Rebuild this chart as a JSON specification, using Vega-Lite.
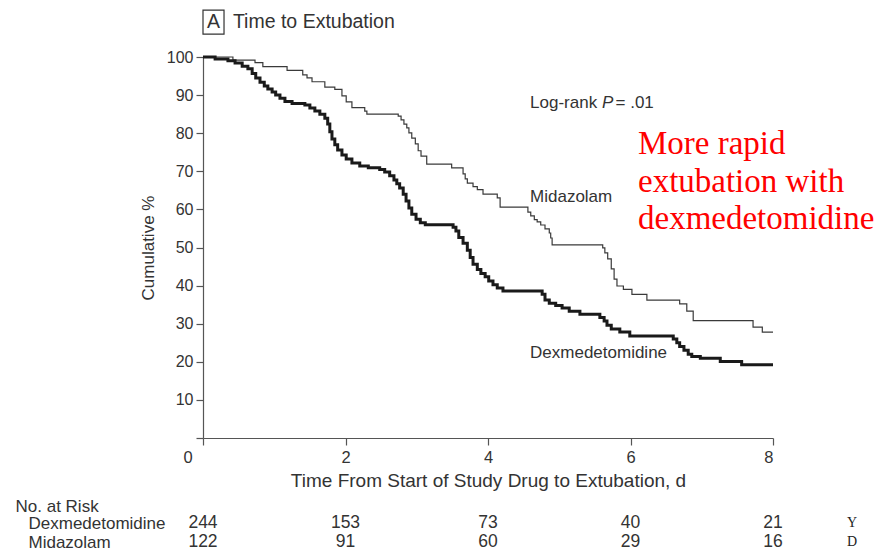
{
  "$schema": "https://vega.github.io/schema/vega-lite/v6.json",
  "background": "white",
  "padding": {"left": 15, "top": 9, "right": 0, "bottom": 0},
  "spacing": 6,
  "config": {"view": {"stroke": null}, "font": "Liberation Sans", "text": {"font": "Liberation Sans"}},
  "datasets": {
    "km": [
      {"group": "Midazolam", "t": 0, "s": 100},
      {"group": "Midazolam", "t": 0.42, "s": 99.2},
      {"group": "Midazolam", "t": 0.73, "s": 98.5},
      {"group": "Midazolam", "t": 0.84, "s": 97.5},
      {"group": "Midazolam", "t": 1.18, "s": 96.5},
      {"group": "Midazolam", "t": 1.40, "s": 95.3},
      {"group": "Midazolam", "t": 1.46, "s": 94.5},
      {"group": "Midazolam", "t": 1.53, "s": 93.5},
      {"group": "Midazolam", "t": 1.71, "s": 92.1},
      {"group": "Midazolam", "t": 1.85, "s": 91.5},
      {"group": "Midazolam", "t": 1.95, "s": 89.8},
      {"group": "Midazolam", "t": 2.01, "s": 88.2},
      {"group": "Midazolam", "t": 2.09, "s": 86.7},
      {"group": "Midazolam", "t": 2.27, "s": 85.8},
      {"group": "Midazolam", "t": 2.30, "s": 85.0},
      {"group": "Midazolam", "t": 2.74, "s": 84.5},
      {"group": "Midazolam", "t": 2.78, "s": 83.5},
      {"group": "Midazolam", "t": 2.82, "s": 82.4},
      {"group": "Midazolam", "t": 2.86, "s": 81.4},
      {"group": "Midazolam", "t": 2.89, "s": 80.1},
      {"group": "Midazolam", "t": 2.93, "s": 78.7},
      {"group": "Midazolam", "t": 2.98, "s": 77.2},
      {"group": "Midazolam", "t": 3.02, "s": 75.4},
      {"group": "Midazolam", "t": 3.06, "s": 74.0},
      {"group": "Midazolam", "t": 3.14, "s": 71.9},
      {"group": "Midazolam", "t": 3.49, "s": 70.9},
      {"group": "Midazolam", "t": 3.65, "s": 69.3},
      {"group": "Midazolam", "t": 3.68, "s": 68.0},
      {"group": "Midazolam", "t": 3.71, "s": 66.9},
      {"group": "Midazolam", "t": 3.79, "s": 66.0},
      {"group": "Midazolam", "t": 3.85, "s": 65.2},
      {"group": "Midazolam", "t": 3.93, "s": 64.0},
      {"group": "Midazolam", "t": 4.13, "s": 63.0},
      {"group": "Midazolam", "t": 4.17, "s": 60.6},
      {"group": "Midazolam", "t": 4.56, "s": 59.3},
      {"group": "Midazolam", "t": 4.60, "s": 58.3},
      {"group": "Midazolam", "t": 4.65, "s": 57.3},
      {"group": "Midazolam", "t": 4.69, "s": 56.7},
      {"group": "Midazolam", "t": 4.74, "s": 55.9},
      {"group": "Midazolam", "t": 4.80, "s": 54.9},
      {"group": "Midazolam", "t": 4.86, "s": 53.8},
      {"group": "Midazolam", "t": 4.88, "s": 52.5},
      {"group": "Midazolam", "t": 4.90, "s": 50.7},
      {"group": "Midazolam", "t": 5.61, "s": 49.9},
      {"group": "Midazolam", "t": 5.64, "s": 48.6},
      {"group": "Midazolam", "t": 5.68, "s": 47.0},
      {"group": "Midazolam", "t": 5.73, "s": 44.4},
      {"group": "Midazolam", "t": 5.77, "s": 41.7},
      {"group": "Midazolam", "t": 5.81, "s": 39.9},
      {"group": "Midazolam", "t": 5.90, "s": 39.0},
      {"group": "Midazolam", "t": 6.02, "s": 37.7},
      {"group": "Midazolam", "t": 6.23, "s": 36.2},
      {"group": "Midazolam", "t": 6.69, "s": 35.2},
      {"group": "Midazolam", "t": 6.79, "s": 33.3},
      {"group": "Midazolam", "t": 6.88, "s": 30.8},
      {"group": "Midazolam", "t": 7.72, "s": 29.1},
      {"group": "Midazolam", "t": 7.85, "s": 27.8},
      {"group": "Midazolam", "t": 8.0, "s": 27.8},
      {"group": "Dexmedetomidine", "t": 0, "s": 100},
      {"group": "Dexmedetomidine", "t": 0.17, "s": 99.5},
      {"group": "Dexmedetomidine", "t": 0.35, "s": 99.0},
      {"group": "Dexmedetomidine", "t": 0.45, "s": 98.4},
      {"group": "Dexmedetomidine", "t": 0.55, "s": 97.6},
      {"group": "Dexmedetomidine", "t": 0.63, "s": 96.9},
      {"group": "Dexmedetomidine", "t": 0.69, "s": 95.7},
      {"group": "Dexmedetomidine", "t": 0.74, "s": 94.5},
      {"group": "Dexmedetomidine", "t": 0.80, "s": 93.4},
      {"group": "Dexmedetomidine", "t": 0.86, "s": 92.4},
      {"group": "Dexmedetomidine", "t": 0.91, "s": 91.6},
      {"group": "Dexmedetomidine", "t": 0.97, "s": 90.8},
      {"group": "Dexmedetomidine", "t": 1.02, "s": 90.0},
      {"group": "Dexmedetomidine", "t": 1.08, "s": 89.2},
      {"group": "Dexmedetomidine", "t": 1.15, "s": 88.3},
      {"group": "Dexmedetomidine", "t": 1.25, "s": 87.8},
      {"group": "Dexmedetomidine", "t": 1.43, "s": 87.4},
      {"group": "Dexmedetomidine", "t": 1.50, "s": 86.6},
      {"group": "Dexmedetomidine", "t": 1.57, "s": 85.8},
      {"group": "Dexmedetomidine", "t": 1.64, "s": 85.0},
      {"group": "Dexmedetomidine", "t": 1.71, "s": 83.9},
      {"group": "Dexmedetomidine", "t": 1.75, "s": 82.4},
      {"group": "Dexmedetomidine", "t": 1.78, "s": 80.4},
      {"group": "Dexmedetomidine", "t": 1.81, "s": 78.5},
      {"group": "Dexmedetomidine", "t": 1.85, "s": 77.0},
      {"group": "Dexmedetomidine", "t": 1.89, "s": 75.6},
      {"group": "Dexmedetomidine", "t": 1.95, "s": 74.3},
      {"group": "Dexmedetomidine", "t": 2.01, "s": 73.2},
      {"group": "Dexmedetomidine", "t": 2.09, "s": 72.2},
      {"group": "Dexmedetomidine", "t": 2.20, "s": 71.4},
      {"group": "Dexmedetomidine", "t": 2.32, "s": 70.9},
      {"group": "Dexmedetomidine", "t": 2.48, "s": 70.5},
      {"group": "Dexmedetomidine", "t": 2.55, "s": 69.8},
      {"group": "Dexmedetomidine", "t": 2.62, "s": 68.8},
      {"group": "Dexmedetomidine", "t": 2.68, "s": 67.7},
      {"group": "Dexmedetomidine", "t": 2.72, "s": 66.7},
      {"group": "Dexmedetomidine", "t": 2.76, "s": 65.6},
      {"group": "Dexmedetomidine", "t": 2.81, "s": 64.0},
      {"group": "Dexmedetomidine", "t": 2.85, "s": 62.2},
      {"group": "Dexmedetomidine", "t": 2.89, "s": 60.4},
      {"group": "Dexmedetomidine", "t": 2.93, "s": 58.7},
      {"group": "Dexmedetomidine", "t": 2.99, "s": 57.4},
      {"group": "Dexmedetomidine", "t": 3.05, "s": 56.5},
      {"group": "Dexmedetomidine", "t": 3.12, "s": 56.0},
      {"group": "Dexmedetomidine", "t": 3.51, "s": 55.3},
      {"group": "Dexmedetomidine", "t": 3.55, "s": 54.3},
      {"group": "Dexmedetomidine", "t": 3.59, "s": 52.6},
      {"group": "Dexmedetomidine", "t": 3.65, "s": 51.1},
      {"group": "Dexmedetomidine", "t": 3.71, "s": 49.3},
      {"group": "Dexmedetomidine", "t": 3.75, "s": 47.4},
      {"group": "Dexmedetomidine", "t": 3.79, "s": 45.6},
      {"group": "Dexmedetomidine", "t": 3.85, "s": 44.2},
      {"group": "Dexmedetomidine", "t": 3.90, "s": 43.2},
      {"group": "Dexmedetomidine", "t": 3.96, "s": 42.3},
      {"group": "Dexmedetomidine", "t": 4.01, "s": 41.2},
      {"group": "Dexmedetomidine", "t": 4.07, "s": 40.2},
      {"group": "Dexmedetomidine", "t": 4.13, "s": 39.4},
      {"group": "Dexmedetomidine", "t": 4.21, "s": 38.6},
      {"group": "Dexmedetomidine", "t": 4.76, "s": 37.7},
      {"group": "Dexmedetomidine", "t": 4.80, "s": 36.2},
      {"group": "Dexmedetomidine", "t": 4.86, "s": 35.4},
      {"group": "Dexmedetomidine", "t": 4.95, "s": 34.8},
      {"group": "Dexmedetomidine", "t": 5.04, "s": 34.1},
      {"group": "Dexmedetomidine", "t": 5.14, "s": 33.3},
      {"group": "Dexmedetomidine", "t": 5.29, "s": 32.5},
      {"group": "Dexmedetomidine", "t": 5.57, "s": 31.6},
      {"group": "Dexmedetomidine", "t": 5.63, "s": 30.7},
      {"group": "Dexmedetomidine", "t": 5.67, "s": 29.6},
      {"group": "Dexmedetomidine", "t": 5.73, "s": 28.6},
      {"group": "Dexmedetomidine", "t": 5.85, "s": 27.8},
      {"group": "Dexmedetomidine", "t": 5.99, "s": 26.8},
      {"group": "Dexmedetomidine", "t": 6.60, "s": 26.0},
      {"group": "Dexmedetomidine", "t": 6.65, "s": 25.0},
      {"group": "Dexmedetomidine", "t": 6.69, "s": 24.0},
      {"group": "Dexmedetomidine", "t": 6.75, "s": 23.0},
      {"group": "Dexmedetomidine", "t": 6.81, "s": 22.0},
      {"group": "Dexmedetomidine", "t": 6.86, "s": 21.4},
      {"group": "Dexmedetomidine", "t": 6.98, "s": 20.9},
      {"group": "Dexmedetomidine", "t": 7.26, "s": 20.1},
      {"group": "Dexmedetomidine", "t": 7.56, "s": 19.2},
      {"group": "Dexmedetomidine", "t": 8.0, "s": 19.2}
    ],
    "labels": [
      {"t": 4.59, "s": 63.3, "text": "Midazolam"},
      {"t": 4.59, "s": 22.3, "text": "Dexmedetomidine"},
      {"t": 4.59, "s": 87.9, "text": "Log-rank"},
      {"t": 5.79, "s": 87.9, "text": "= .01"}
    ],
    "italic": [
      {"t": 5.60, "s": 87.9, "text": "P"}
    ],
    "note": [
      {"t": 6.105, "s": 74.5, "text": ["More rapid", "extubation with", "dexmedetomidine"]}
    ],
    "box": [
      {"t": 0, "t1": 0.295, "s": 106.0, "s1": 112.3}
    ],
    "letter": [
      {"t": 0.147, "s": 109.1, "text": "A"}
    ],
    "heading": [
      {"t": 0.42, "s": 109.1, "text": "Time to Extubation"}
    ],
    "risk": [
      {"row": "Dexmedetomidine", "t": 0, "n": "244"},
      {"row": "Dexmedetomidine", "t": 2, "n": "153"},
      {"row": "Dexmedetomidine", "t": 4, "n": "73"},
      {"row": "Dexmedetomidine", "t": 6, "n": "40"},
      {"row": "Dexmedetomidine", "t": 8, "n": "21"},
      {"row": "Midazolam", "t": 0, "n": "122"},
      {"row": "Midazolam", "t": 2, "n": "91"},
      {"row": "Midazolam", "t": 4, "n": "60"},
      {"row": "Midazolam", "t": 6, "n": "29"},
      {"row": "Midazolam", "t": 8, "n": "16"}
    ],
    "marks": [
      {"row": "Dexmedetomidine", "t": 9.11, "n": "Y"},
      {"row": "Midazolam", "t": 9.11, "n": "D"}
    ]
  },
  "vconcat": [
    {
      "width": 570,
      "height": 381,
      "encoding": {
        "x": {
          "field": "t", "type": "quantitative",
          "scale": {"domain": [0, 8], "nice": false},
          "axis": {
            "values": [0, 2, 4, 6, 8], "format": "d", "grid": false, "labelOverlap": false,
            "tickSize": 7, "tickColor": "#555", "domainColor": "#555", "domainWidth": 1.2, "tickWidth": 1.2,
            "labelFontSize": 16.5, "labelColor": "#333", "labelPadding": 4,
            "labelOffset": {"condition": {"test": "datum.value === 0", "value": -20}, "value": 0},
            "title": "Time From Start of Study Drug to Extubation, d",
            "titleFontSize": 19, "titleFontWeight": "normal", "titleColor": "#333", "titlePadding": 6
          }
        },
        "y": {
          "field": "s", "type": "quantitative",
          "scale": {"domain": [0, 100], "nice": false},
          "axis": {
            "values": [0, 10, 20, 30, 40, 50, 60, 70, 80, 90, 100], "grid": false, "labelOverlap": false,
            "labelExpr": "datum.value === 0 ? '' : datum.label",
            "tickSize": 7, "tickColor": "#555", "domainColor": "#555", "domainWidth": 1.2, "tickWidth": 1.2,
            "labelFontSize": 16, "labelColor": "#333", "labelPadding": 3,
            "title": "Cumulative %", "titleFontSize": 17, "titleFontWeight": "normal", "titleColor": "#333", "titlePadding": 9
          }
        }
      },
      "layer": [
        {
          "data": {"name": "km"},
          "mark": {"type": "line", "interpolate": "step-after"},
          "encoding": {
            "detail": {"field": "group"},
            "color": {"field": "group", "type": "nominal", "scale": {"domain": ["Dexmedetomidine", "Midazolam"], "range": ["#1a1a1a", "#3a3a3a"]}, "legend": null},
            "strokeWidth": {"field": "group", "type": "nominal", "scale": {"domain": ["Dexmedetomidine", "Midazolam"], "range": [3, 1.2]}, "legend": null}
          }
        },
        {
          "data": {"name": "labels"},
          "mark": {"type": "text", "align": "left", "baseline": "middle", "fontSize": 17, "color": "#333"},
          "encoding": {"text": {"field": "text"}}
        },
        {
          "data": {"name": "italic"},
          "mark": {"type": "text", "align": "left", "baseline": "middle", "fontSize": 17, "fontStyle": "italic", "color": "#333"},
          "encoding": {"text": {"field": "text"}}
        },
        {
          "data": {"name": "note"},
          "mark": {"type": "text", "align": "left", "baseline": "alphabetic", "font": "Liberation Serif", "fontSize": 33, "lineHeight": 37.5, "color": "#ff0000"},
          "encoding": {"text": {"field": "text"}}
        },
        {
          "data": {"name": "box"},
          "mark": {"type": "rect", "fill": "white", "stroke": "#333", "strokeWidth": 1.2, "clip": false},
          "encoding": {"x2": {"field": "t1"}, "y2": {"field": "s1"}}
        },
        {
          "data": {"name": "letter"},
          "mark": {"type": "text", "align": "center", "baseline": "middle", "fontSize": 19.5, "color": "#333"},
          "encoding": {"text": {"field": "text"}}
        },
        {
          "data": {"name": "heading"},
          "mark": {"type": "text", "align": "left", "baseline": "middle", "fontSize": 19.5, "color": "#333"},
          "encoding": {"text": {"field": "text"}}
        }
      ]
    },
    {
      "width": 570,
      "height": 19,
      "layer": [
        {
          "data": {"name": "risk"},
          "mark": {"type": "text", "align": "center", "baseline": "middle", "fontSize": 17.5, "color": "#333"},
          "encoding": {
            "x": {"field": "t", "type": "quantitative", "scale": {"domain": [0, 8], "nice": false}, "axis": null},
            "y": {
              "field": "row", "type": "nominal",
              "scale": {"type": "point", "domain": ["Dexmedetomidine", "Midazolam"], "padding": 0},
              "axis": {
                "orient": "left", "domain": false, "ticks": false, "tickSize": 0,
                "labelAlign": "left", "labelBaseline": "middle", "labelPadding": 175,
                "labelFontSize": 17, "labelColor": "#333",
                "title": "No. at Risk", "titleAngle": 0, "titleAlign": "left", "titleBaseline": "middle",
                "titleX": -188, "titleY": -17, "titleFontSize": 17, "titleFontWeight": "normal", "titleColor": "#333"
              }
            },
            "text": {"field": "n"}
          }
        },
        {
          "data": {"name": "marks"},
          "mark": {"type": "text", "align": "center", "baseline": "middle", "font": "Liberation Serif", "fontSize": 14, "color": "#222"},
          "encoding": {
            "x": {"field": "t", "type": "quantitative"},
            "y": {"field": "row", "type": "nominal"},
            "text": {"field": "n"}
          }
        }
      ]
    }
  ]
}
